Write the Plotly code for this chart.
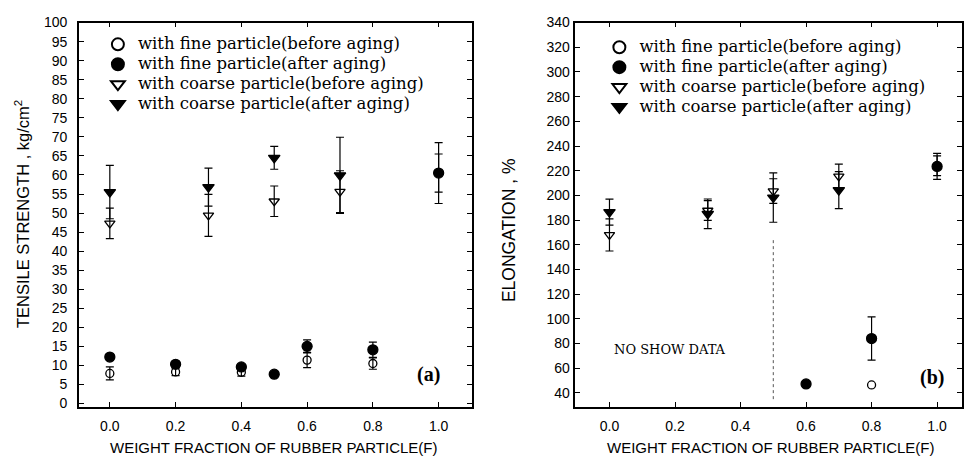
import plotly.graph_objects as go

# ---------------- data ----------------
# (a) tensile strength, kg/cm2
ts_fine_before_x = [0.0, 0.2, 0.4, 0.6, 0.8, 1.0]
ts_fine_before_y = [7.9, 8.3, 8.2, 11.4, 10.5, 60.5]
ts_fine_before_e = [1.7, 1.0, 1.0, 2.0, 1.5, 5.0]

ts_fine_after_x = [0.0, 0.2, 0.4, 0.5, 0.6, 0.8, 1.0]
ts_fine_after_y = [12.2, 10.3, 9.6, 7.7, 15.0, 14.1, 60.5]
ts_fine_after_e = [0.5, 0.5, 0.5, 0.5, 1.7, 2.0, 8.0]

ts_coarse_before_x = [0.0, 0.3, 0.5, 0.7]
ts_coarse_before_y = [47.3, 49.4, 53.1, 55.6]
ts_coarse_before_e = [4.0, 5.5, 4.0, 5.5]

ts_coarse_after_x = [0.0, 0.3, 0.5, 0.7]
ts_coarse_after_y = [55.5, 56.8, 64.5, 59.9]
ts_coarse_after_e = [7.0, 5.0, 3.0, 10.0]

# (b) elongation, %
# points listed last without an error value have no error bar in the original
el_fine_before_x = [1.0, 0.8]
el_fine_before_y = [224.0, 46.5]
el_fine_before_e = [8.0]

el_fine_after_x = [0.8, 1.0, 0.6]
el_fine_after_y = [84.1, 223.5, 47.3]
el_fine_after_e = [17.5, 10.5]

el_coarse_before_x = [0.0, 0.3, 0.5, 0.7]
el_coarse_before_y = [168.0, 187.8, 203.5, 215.4]
el_coarse_before_e = [13.0, 8.0, 10.0, 10.0]

el_coarse_after_x = [0.0, 0.3, 0.5, 0.7]
el_coarse_after_y = [186.5, 185.1, 198.3, 204.3]
el_coarse_after_e = [10.5, 12.0, 20.0, 15.0]

series_names = [
    "with fine particle(before aging)",
    "with fine particle(after aging)",
    "with coarse particle(before aging)",
    "with coarse particle(after aging)",
]
x_ticks = [0.0, 0.2, 0.4, 0.6, 0.8, 1.0]
x_ticktext = ["0.0", "0.2", "0.4", "0.6", "0.8", "1.0"]
ts_ticks = list(range(0, 101, 5))
el_ticks = list(range(40, 341, 20))

# ---------------- styles ----------------
symbols = ["circle-open", "circle", "triangle-down-open", "triangle-down"]
sizes = [8, 10, 9, 10]
SANS = "Liberation Sans, Arial, sans-serif"
SERIF = "DejaVu Serif, serif"

fig = go.Figure()

def add_series(xs, ys, es, idx, xa, ya, legend):
    fig.add_trace(go.Scatter(
        x=xs, y=ys, mode="markers",
        name='<span style="font-size:16.5px">' + series_names[idx] + "</span>",
        xaxis=xa, yaxis=ya, legend=legend,
        marker=dict(symbol=symbols[idx], size=sizes[idx], color="black",
                    line=dict(color="black", width=1.3)),
        error_y=dict(type="data", array=es, visible=True, color="black",
                     thickness=1.2, width=4),
    ))

ts_sets = [
    (ts_fine_before_x, ts_fine_before_y, ts_fine_before_e),
    (ts_fine_after_x, ts_fine_after_y, ts_fine_after_e),
    (ts_coarse_before_x, ts_coarse_before_y, ts_coarse_before_e),
    (ts_coarse_after_x, ts_coarse_after_y, ts_coarse_after_e),
]
el_sets = [
    (el_fine_before_x, el_fine_before_y, el_fine_before_e),
    (el_fine_after_x, el_fine_after_y, el_fine_after_e),
    (el_coarse_before_x, el_coarse_before_y, el_coarse_before_e),
    (el_coarse_after_x, el_coarse_after_y, el_coarse_after_e),
]
for i, (xs, ys, es) in enumerate(ts_sets):
    add_series(xs, ys, es, i, "x", "y", "legend")
for i, (xs, ys, es) in enumerate(el_sets):
    add_series(xs, ys, es, i, "x2", "y2", "legend2")

W, H = 964, 466
def px_x(p):
    return p / W
def px_y(p):
    return 1 - p / H

axis_common = dict(
    showline=True, linecolor="black", linewidth=1.5, mirror="ticks",
    ticks="inside", ticklen=5, tickwidth=1, tickcolor="black",
    showgrid=False, zeroline=False,
    tickfont=dict(family=SANS, size=14, color="black"),
)

legend_common = dict(
    xanchor="left", yanchor="top", bgcolor="rgba(0,0,0,0)", borderwidth=0,
    font=dict(family=SERIF, size=13, color="black"),
    itemsizing="constant", tracegroupgap=0,
)

def ann_text(text, x, y, size, family=SANS, angle=0, xref="paper", yref="paper"):
    return dict(text=text, xref=xref, yref=yref, x=x, y=y, textangle=angle,
                xanchor="center", yanchor="middle", showarrow=False,
                font=dict(family=family, size=size, color="black"))

fig.update_layout(
    width=W, height=H,
    margin=dict(l=0, r=0, t=0, b=0),
    paper_bgcolor="white", plot_bgcolor="white",
    showlegend=True,
    xaxis=dict(domain=[px_x(79), px_x(472)], range=[-0.094, 1.10],
               tickvals=x_ticks, ticktext=x_ticktext, anchor="y",
               ticklabelstandoff=6, **axis_common),
    yaxis=dict(domain=[px_y(410), px_y(15)], range=[-0.8, 100],
               tickvals=ts_ticks, anchor="x", ticklabelstandoff=7, **axis_common),
    xaxis2=dict(domain=[px_x(576), px_x(963)], range=[-0.104, 1.076],
                tickvals=x_ticks, ticktext=x_ticktext, anchor="y2",
                ticklabelstandoff=6, **axis_common),
    yaxis2=dict(domain=[px_y(410), px_y(15)], range=[29, 340],
                tickvals=el_ticks, anchor="x2", ticklabelstandoff=1, **axis_common),
    legend=dict(x=px_x(98), y=px_y(22), **legend_common),
    legend2=dict(x=px_x(600), y=px_y(25), **legend_common),
    shapes=[
        dict(type="line", xref="x2", yref="y2", x0=0.5, x1=0.5, y0=35, y1=165,
             line=dict(color="#555555", width=1, dash="dot")),
    ],
    annotations=[
        ann_text("TENSILE STRENGTH , kg/cm<sup>2</sup>", px_x(22), px_y(212), 16.5, angle=-90),
        ann_text("ELONGATION , %", px_x(509), px_y(228), 17.5, angle=-90),
        ann_text("WEIGHT FRACTION OF RUBBER PARTICLE(F)", px_x(274), px_y(452), 15),
        ann_text("WEIGHT FRACTION OF RUBBER PARTICLE(F)", px_x(772), px_y(452), 15),
        ann_text("<b>(a)</b>", 0.97, 7.5, 20, family="Liberation Serif, serif", xref="x", yref="y"),
        ann_text("<b>(b)</b>", 0.985, 52.5, 20, family="Liberation Serif, serif", xref="x2", yref="y2"),
        ann_text("NO SHOW DATA", 0.186, 75, 13, family=SERIF, xref="x2", yref="y2"),
    ],
)

fig.write_html("out.html")
